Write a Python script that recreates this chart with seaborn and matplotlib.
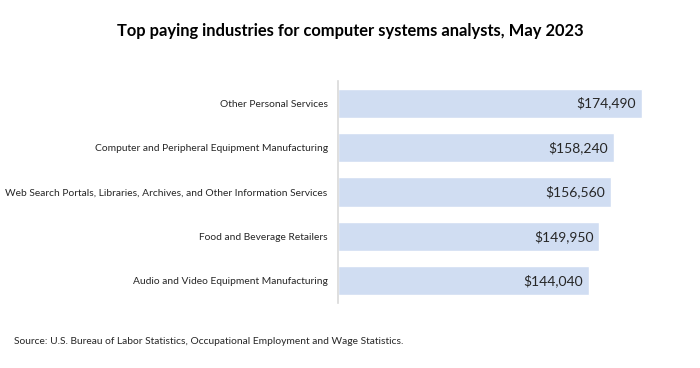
import matplotlib
matplotlib.use("Agg")
import matplotlib.pyplot as plt
import seaborn as sns
import pandas as pd

# ==================================================
# DATA
# ==================================================
industries = [
    "Other Personal Services",
    "Computer and Peripheral Equipment Manufacturing",
    "Web Search Portals, Libraries, Archives, and Other Information Services",
    "Food and Beverage Retailers",
    "Audio and Video Equipment Manufacturing",
]
wages = [174490, 158240, 156560, 149950, 144040]

title = "Top paying industries for computer systems analysts, May 2023"
source = "Source: U.S. Bureau of Labor Statistics, Occupational Employment and Wage Statistics."

df = pd.DataFrame({"Industry": industries, "Wage": wages})

# ==================================================
# STYLING
# ==================================================
sns.set_theme(style="white")
plt.rcParams["font.family"] = ["Lato", "DejaVu Sans"]

fig = plt.figure(figsize=(7, 3.68), dpi=100)
ax = fig.add_axes([0.483, 0.177, 0.46, 0.603])

sns.barplot(
    data=df,
    x="Wage",
    y="Industry",
    orient="h",
    color="#D0DDF2",
    saturation=1,
    width=0.66,
    ax=ax,
)

ax.set_xlim(0, 185000)
ax.set_xticks([])
ax.set_xlabel("")
ax.set_ylabel("")
ax.tick_params(axis="y", length=0, pad=7.5, labelsize=7.4, labelcolor="#262626")

for side in ["top", "right", "bottom"]:
    ax.spines[side].set_visible(False)
ax.spines["left"].set_color("#D9D9D9")
ax.spines["left"].set_linewidth(1.2)

# value labels just inside the end of each bar
for patch in ax.patches:
    w = patch.get_width()
    yc = patch.get_y() + patch.get_height() / 2
    ax.annotate(
        f"${w:,.0f}",
        xy=(w, yc),
        xytext=(-4, 0),
        textcoords="offset points",
        ha="right",
        va="center",
        fontsize=10,
        color="#262626",
    )

fig.text(0.5, 0.915, title, ha="center", va="center",
         fontsize=11.9, fontweight="bold", color="black")
fig.text(0.02, 0.073, source, ha="left", va="center",
         fontsize=7.4, color="#262626")

plt.savefig("out.png", dpi=100)
